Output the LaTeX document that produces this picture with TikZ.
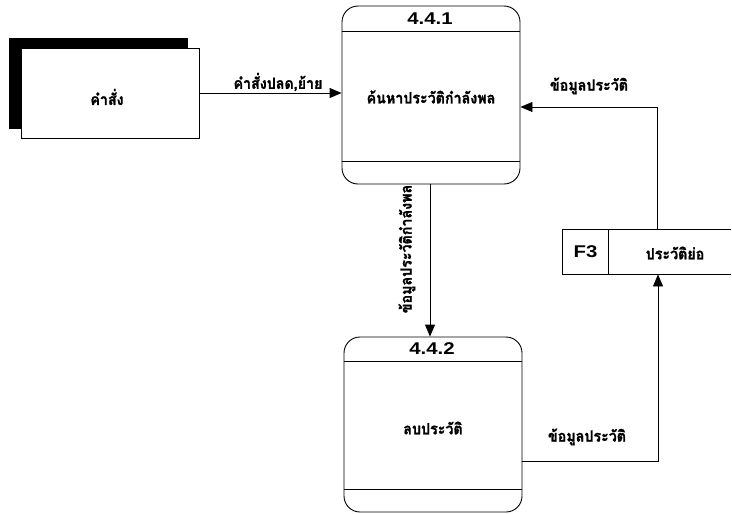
\documentclass[tikz,border=0pt]{standalone}
\usepackage{fontspec}
\setmainfont{Liberation Sans}
\newfontfamily\thai[Script=Thai,FakeStretch=0.92,FakeBold=1.2]{Loma}
\usetikzlibrary{calc,arrows.meta,shadows}
\newcommand{\wide}[1]{\scalebox{1.2}[1]{#1}}
\begin{document}
\begin{tikzpicture}[x=1pt,y=-1pt,
  line width=0.9pt,
  arr/.style={-{Triangle[length=12pt,width=10pt]}},
  proc/.style={draw,rounded corners=16pt,minimum width=178pt,inner sep=0pt},
  ent/.style={draw,fill=white,minimum width=178pt,minimum height=90pt,inner sep=0pt,
    copy shadow={shadow xshift=-12pt,shadow yshift=10pt,fill=black,draw=black}},
  lbl/.style={font=\thai\bfseries\fontsize{15.5}{17}\selectfont,inner sep=1pt},
  ttl/.style={font=\bfseries\fontsize{17}{18}\selectfont,inner sep=0pt},
  cell/.style={minimum height=44pt,inner sep=0pt}]
\useasboundingbox (0,0) rectangle (732,514);

% external entity
\node[ent] (e) at (110,93) {};
\node[lbl] (et) at (107,97) {คำสั่ง};

% process 4.4.1
\node[proc,minimum height=178pt] (p1) at (431,95) {};
\draw ($(p1.north west)+(0,26)$) -- ($(p1.north east)+(0,26)$);
\draw ($(p1.south west)+(0,-23)$) -- ($(p1.south east)+(0,-23)$);
\node[ttl] (p1n) at (430,19) {\wide{4.4.1}};
\node[lbl] (p1t) at (431,97) {ค้นหาประวัติกำลังพล};

% process 4.4.2
\node[proc,minimum height=175pt] (p2) at (433,424.5) {};
\draw ($(p2.north west)+(0,25)$) -- ($(p2.north east)+(0,25)$);
\draw ($(p2.south west)+(0,-23)$) -- ($(p2.south east)+(0,-23)$);
\node[ttl] (p2n) at (432,349) {\wide{4.4.2}};
\node[lbl] (p2t) at (433,428) {ลบประวัติ};

% data store F3
\node[cell,minimum width=45pt] (fid) at (585.5,252) {\fontsize{17}{18}\selectfont\bfseries\wide{F3}};
\node[cell,minimum width=123pt] (fname) at (669.5,252) {};
\node[lbl] (fnt) at (675,253) {ประวัติย่อ};
\draw (fname.north east) -- (fid.north west) -- (fid.south west) -- (fname.south east);
\draw (fid.north east) -- (fid.south east);

% flows
\draw[arr] (e.east) -- (e.east -| p1.west);
\node[lbl] (l1) at (278,82) {คำสั่งปลด,ย้าย};

\draw[arr] ([xshift=-1pt]p1.south) -- ([xshift=-1pt]p1.south |- p2.north);
\node[lbl,rotate=90] (l2) at (407,249) {ข้อมูลประวัติกำลังพล};

\coordinate (c1) at (657,107);
\draw[arr] (fname.north -| c1) -- (c1) -- (c1 -| p1.east);
\node[lbl] (l3) at (589,86) {ข้อมูลประวัติ};

\coordinate (c2) at (658,461);
\draw[arr] (c2 -| p2.east) -- (c2) -- (c2 |- fname.south);
\node[lbl] (l4) at (587,437) {ข้อมูลประวัติ};
\end{tikzpicture}
\end{document}
